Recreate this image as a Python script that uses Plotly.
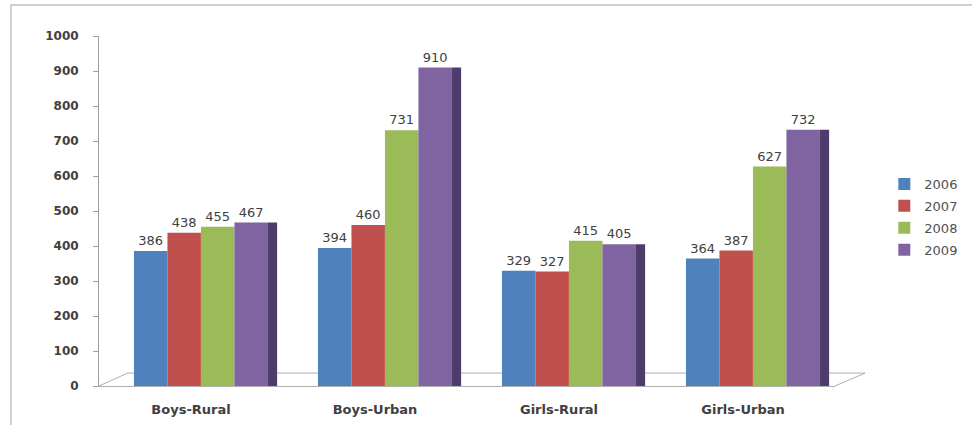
import plotly.graph_objects as go

categories = ["Boys-Rural", "Boys-Urban", "Girls-Rural", "Girls-Urban"]
years = ["2006", "2007", "2008", "2009"]
v2006 = [386, 394, 329, 364]
v2007 = [438, 460, 327, 387]
v2008 = [455, 731, 415, 627]
v2009 = [467, 910, 405, 732]
y_ticks = [0, 100, 200, 300, 400, 500, 600, 700, 800, 900, 1000]

series = [v2006, v2007, v2008, v2009]
colors = ["#4F81BD", "#C0504D", "#9BBB59", "#8064A2"]
bar_w = 0.182
start = -0.31

fig = go.Figure()
for i, (name, vals, col) in enumerate(zip(years, series, colors)):
    fig.add_trace(go.Bar(
        x=categories, y=vals, name=name, legendgroup=name,
        marker=dict(color=col, line=dict(width=0)),
        width=bar_w, offset=start + i * bar_w,
        text=[str(v) for v in vals], textposition="outside",
        textfont=dict(family="DejaVu Sans", size=13, color="#404040"),
        cliponaxis=False,
    ))
# dark side face of the last bar (3D look)
fig.add_trace(go.Bar(
    x=categories, y=v2009, name="side", showlegend=False, hoverinfo="skip",
    marker=dict(color="#4E3D6C", line=dict(width=0)),
    width=0.05, offset=start + 4 * bar_w,
))

fig.update_layout(
    width=972, height=425,
    margin=dict(l=99, r=137, t=36, b=39, autoexpand=False),
    plot_bgcolor="white", paper_bgcolor="white",
    barmode="overlay",
    showlegend=True,
    legend=dict(x=1.067, y=0.62, xanchor="left", yanchor="top",
                font=dict(family="DejaVu Sans", size=13, color="#505050"),
                bgcolor="rgba(0,0,0,0)", tracegroupgap=2, itemwidth=30),
    xaxis=dict(range=[-0.5, 3.5], showline=True, linecolor="#B0B0B0", linewidth=1,
               showgrid=False, ticks="", ticklabelstandoff=11,
               tickfont=dict(family="DejaVu Sans", size=13, color="#404040", weight="bold")),
    yaxis=dict(range=[0, 1000], tickvals=y_ticks, showline=True, linecolor="#A0A0A0",
               linewidth=1, showgrid=False, ticks="outside", ticklen=5, tickcolor="#A0A0A0",
               ticklabelstandoff=12, zeroline=False,
               tickfont=dict(family="DejaVu Sans", size=12, color="#404040", weight="bold")),
    shapes=[
        dict(type="path", xref="paper", yref="paper", layer="below",
             path="M 0,0 L 0.039,0.037 L 1.041,0.037 L 1.0,0",
             line=dict(color="#B0B0B0", width=1)),
        dict(type="path", xref="paper", yref="paper",
             path="M -0.1196,-0.12 L -0.1196,1.0886 L 1.19,1.0886",
             line=dict(color="#D0D0D0", width=2)),
    ],
)

fig.write_html("out.html")
